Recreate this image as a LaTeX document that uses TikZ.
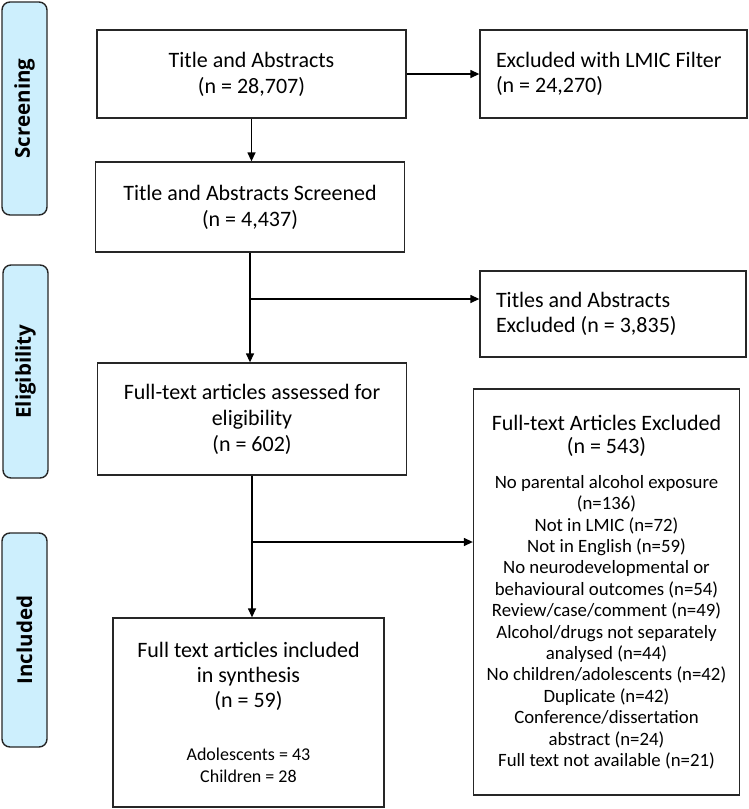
\documentclass[tikz,border=0pt]{standalone}
\usepackage{fontspec}
\setmainfont{Carlito}
\newfontfamily\stagefont{Open Sans}
\usepackage{tikz}
\usetikzlibrary{arrows.meta}
\definecolor{stagefill}{HTML}{CDEFFD}
\definecolor{boxline}{HTML}{262626}
\tikzset{
  stage/.style={draw=boxline, line width=1.4pt, fill=stagefill, rounded corners=8pt,
    rotate=90, minimum width=213pt, minimum height=45pt, inner sep=0pt,
    font=\stagefont\bfseries\fontsize{20.5}{24}\selectfont},
  flowbox/.style={draw=boxline, line width=1.3pt, align=center, inner sep=0pt,
    font=\fontsize{22}{26}\selectfont},
  sidebox/.style={draw=boxline, line width=1.3pt, align=flush left, text width=235pt,
    inner xsep=16pt, inner ysep=0pt, font=\fontsize{22}{25}\selectfont},
  flow/.style={line width=1.3pt, -{Triangle[length=9pt,width=8pt]}}
}

\begin{document}
\begin{tikzpicture}[x=1pt,y=-1pt]
    \useasboundingbox (0,0) rectangle (749,809);

    % Stages
    \node[stage] (screening) at (24.5,108.5) {Screening};
    \node[stage] (eligibility) at (25.5,371.5) {Eligibility};
    \node[stage, minimum width=214pt] (included) at (24.5,640) {Included};

    % Boxes
    \node[flowbox, minimum width=309pt, minimum height=88pt] (ta) at (251.5,74)
        {Title and Abstracts\\(n = 28,707)};
    \node[sidebox, minimum height=88pt] (lmic) at (613.5,74)
        {Excluded with LMIC Filter\\(n = 24,270)};
    \node[flowbox, minimum width=309pt, minimum height=90pt] (tas) at (250,207)
        {Title and Abstracts Screened\\(n = 4,437)};
    \node[sidebox, text width=234pt, minimum height=86pt] (titles) at (613,314)
        {Titles and Abstracts\\Excluded (n = 3,835)};
    \node[flowbox, minimum width=309pt, minimum height=112pt] (fta) at (252,419)
        {Full-text articles assessed for\\eligibility\\(n = 602)};
    \node[flowbox, minimum width=266pt, minimum height=406pt,
        font=\fontsize{18.8}{21.4}\selectfont] (ftx) at (606.5,592)
        {{\fontsize{22}{24}\selectfont Full-text Articles Excluded}\\[1.6pt]
         {\fontsize{22}{24}\selectfont (n = 543)}\\[13.6pt]
         No parental alcohol exposure\\(n=136)\\Not in LMIC (n=72)\\
         Not in English (n=59)\\No neurodevelopmental or\\
         behavioural outcomes (n=54)\\Review/case/comment (n=49)\\
         Alcohol/drugs not separately\\analysed (n=44)\\
         No children/adolescents (n=42)\\Duplicate (n=42)\\
         Conference/dissertation\\abstract (n=24)\\Full text not available (n=21)};
    \node[flowbox, minimum width=271pt, minimum height=189pt,
        font=\fontsize{22}{25}\selectfont] (incl) at (248.5,712.5)
        {Full text articles included\\in synthesis\\(n = 59)\\[28pt]
         {\fontsize{18}{22}\selectfont Adolescents = 43}\\[-3pt]
         {\fontsize{18}{22}\selectfont Children = 28}};

    % Arrows
    \coordinate (split1) at (250,299);
    \coordinate (split2) at (252,542);
    \draw[flow] (ta) -- (lmic);
    \draw[flow] (ta.south) -- (ta.south |- tas.north);
    \draw[flow] (tas.south) -- (tas.south |- fta.north);
    \draw[flow] (split1) -- (split1 -| titles.west);
    \draw[flow] (fta.south) -- (fta.south |- incl.north);
    \draw[flow] (split2) -- (split2 -| ftx.west);
\end{tikzpicture}
\end{document}
